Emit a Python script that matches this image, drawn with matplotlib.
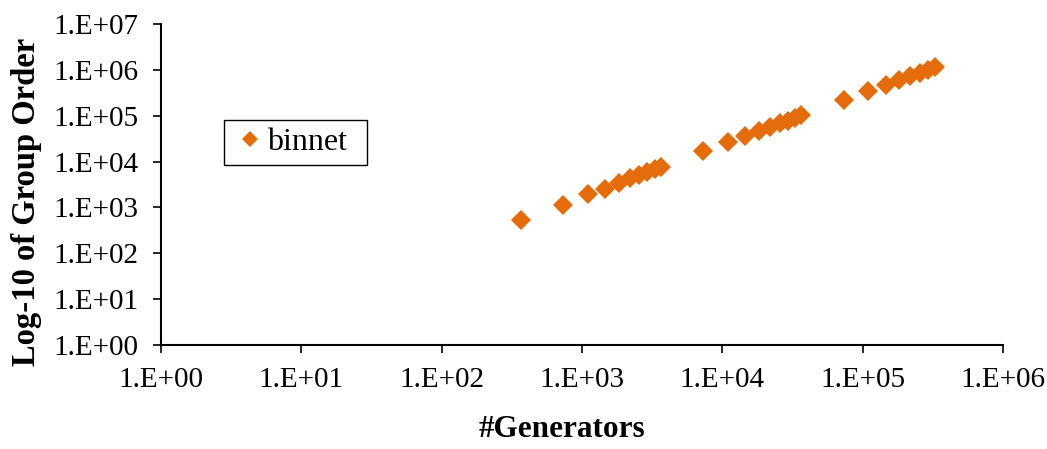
import math
import matplotlib
matplotlib.use("Agg")
import matplotlib.pyplot as plt
from matplotlib.patches import Rectangle
from matplotlib.ticker import FixedLocator, FuncFormatter, NullLocator

# Number of generators per run and the resulting group order
generators = [365, 730, 1095, 1460, 1825, 2190, 2555, 2920, 3285, 3650,
              7300, 10950, 14600, 18250, 21900, 25550, 29200, 32850, 36500,
              73000, 109500, 146000, 182500, 219000, 255500, 292000, 328500]
group_order = [541, 1145, 1946, 2588, 3443, 4425, 5139, 5970, 6803, 7787,
               16750, 27200, 36730, 45600, 57660, 69360, 77850, 89100, 105000,
               219000, 349000, 479600, 606000, 741000, 874000, 1016000, 1180000]
series_name = "binnet"

x_ticks = [10.0 ** k for k in range(0, 7)]
y_ticks = [10.0 ** k for k in range(0, 8)]

plt.rcParams["font.family"] = ["Liberation Serif", "DejaVu Serif"]

fig = plt.figure(figsize=(10.47, 4.49), dpi=100)
ax = fig.add_axes([0.1538, 0.2316, 0.8042, 0.7149])

ax.plot(generators, group_order, linestyle="none", marker="D",
        markersize=10, color="#E46C0A", markeredgewidth=0, label=series_name)

ax.set_xscale("log")
ax.set_yscale("log")
ax.set_xlim(1, 1e6)
ax.set_ylim(1, 1e7)


def sci_label(v, pos):
    return "1.E+%02d" % int(round(math.log10(v)))


ax.xaxis.set_major_locator(FixedLocator(x_ticks))
ax.yaxis.set_major_locator(FixedLocator(y_ticks))
ax.xaxis.set_minor_locator(NullLocator())
ax.yaxis.set_minor_locator(NullLocator())
ax.xaxis.set_major_formatter(FuncFormatter(sci_label))
ax.yaxis.set_major_formatter(FuncFormatter(sci_label))

for side in ("top", "right"):
    ax.spines[side].set_visible(False)
for side in ("left", "bottom"):
    ax.spines[side].set_linewidth(1.5)
    ax.spines[side].set_color("black")

ax.tick_params(axis="both", which="major", direction="out", length=6,
               width=1.2, labelsize=21, colors="black")
ax.tick_params(axis="x", pad=10)
ax.tick_params(axis="y", pad=10)

ax.set_xlabel("#Generators", fontsize=22.5, fontweight="bold")
ax.set_ylabel("Log-10 of Group Order", fontsize=23.5, fontweight="bold")
ax.xaxis.set_label_coords(0.4757, -0.218)
ax.yaxis.set_label_coords(-0.141, 0.447)

# Legend box drawn as its own frame, entries placed inside it
ax.add_patch(Rectangle((0.0748, 0.5607), 0.1698, 0.1402, transform=ax.transAxes,
                       facecolor="white", edgecolor="black", linewidth=1.0,
                       zorder=4, clip_on=False))
leg = ax.legend(loc="center left", bbox_to_anchor=(0.0943, 0.632), fontsize=23,
                frameon=False, handlelength=0.6, handletextpad=0.24,
                borderpad=0.0, borderaxespad=0.0, markerscale=0.8)
leg.set_zorder(5)

fig.savefig("out.png", dpi=100)
